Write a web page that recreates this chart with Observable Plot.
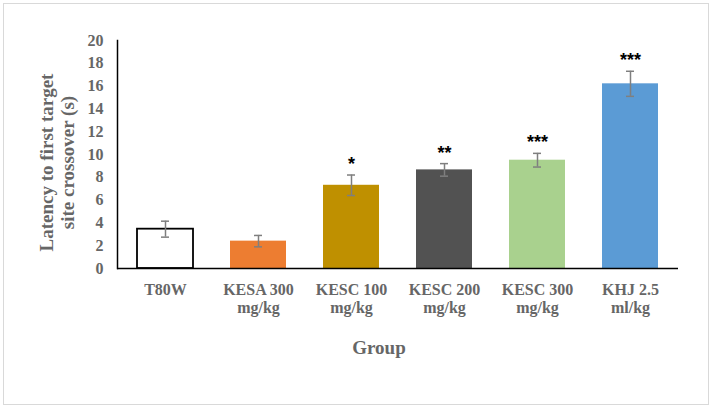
<!DOCTYPE html>
<html>
<head>
<meta charset="utf-8">
<script src="https://cdn.jsdelivr.net/npm/d3@7"></script>
<script src="https://cdn.jsdelivr.net/npm/@observablehq/plot@0.6"></script>
<style>
  html, body { margin: 0; padding: 0; background: #fff; }
  #wrap { position: relative; width: 714px; height: 410px; }
  #border { position: absolute; left: 3px; top: 3px; width: 704px; height: 400px; border: 1px solid #d9d9d9; pointer-events: none; }
  #chart svg { display: block; }
</style>
</head>
<body>
<div id="wrap"><div id="chart"></div><div id="border"></div></div>
<script>
const groups = ["T80W", "KESA 300 mg/kg", "KESC 100 mg/kg", "KESC 200 mg/kg", "KESC 300 mg/kg", "KHJ 2.5 ml/kg"];
const tickLabels = ["T80W", "KESA 300\nmg/kg", "KESC 100\nmg/kg", "KESC 200\nmg/kg", "KESC 300\nmg/kg", "KHJ 2.5\nml/kg"];
const means = [3.45, 2.4, 7.3, 8.65, 9.5, 16.2];
const errors = [0.7, 0.5, 0.9, 0.55, 0.6, 1.1];
const stars = ["", "", "*", "**", "***", "***"];
const fills = ["#ffffff", "#ed7d31", "#bf9000", "#525252", "#a9d18e", "#5b9bd5"];
const yTicks = [0, 2, 4, 6, 8, 10, 12, 14, 16, 18, 20];

const data = groups.map((g, i) => ({group: g, label: tickLabels[i], mean: means[i], err: errors[i], star: stars[i], fill: fills[i]}));

const serif = "'Liberation Serif', 'Times New Roman', serif";
const gray = "#666666";

const chart = Plot.plot({
  width: 714,
  height: 410,
  marginLeft: 117,
  marginRight: 36,
  marginTop: 40,
  marginBottom: 142,
  style: {fontFamily: serif, background: "transparent", overflow: "visible"},
  x: {type: "band", domain: groups, paddingInner: 0.4, paddingOuter: 0.2, label: null},
  y: {domain: [0, 20], label: null},
  marks: [
    Plot.barY(data, {x: "group", y: "mean", fill: "fill", stroke: d => d.group === "T80W" ? "#000" : "none", strokeWidth: 1.8}),
    Plot.ruleX(data, {x: "group", y1: d => d.mean - d.err, y2: d => d.mean + d.err, stroke: "#7f7f7f", strokeWidth: 1.5}),
    Plot.tickY(data, {x: "group", y: d => d.mean - d.err, stroke: "#7f7f7f", strokeWidth: 1.5, insetLeft: 24, insetRight: 24}),
    Plot.tickY(data, {x: "group", y: d => d.mean + d.err, stroke: "#7f7f7f", strokeWidth: 1.5, insetLeft: 24, insetRight: 24}),
    Plot.text(data, {x: "group", y: d => d.mean + d.err, text: "star", lineAnchor: "bottom", dy: -5, fontSize: 18, fontWeight: "bold", fontFamily: "'Liberation Sans', Arial, sans-serif", fill: "#000"}),
    Plot.axisY({ticks: yTicks, tickSize: 0, tickPadding: 14, fontSize: 16, fontWeight: "bold", fill: gray, label: null}),
    Plot.axisX({tickSize: 0, tickPadding: 14, fontSize: 16, fontWeight: "bold", fill: gray, lineHeight: 1.1, label: null, tickFormat: (d, i) => tickLabels[groups.indexOf(d)]}),
    Plot.frame({anchor: "left", stroke: "#000", strokeWidth: 1.5}),
    Plot.ruleY([0], {stroke: "#000", strokeWidth: 1.5}),
    Plot.text(["Latency to first target\nsite crossover (s)"], {frameAnchor: "left", textAnchor: "middle", rotate: -90, dx: -61, dy: 8, lineAnchor: "middle", lineHeight: 1.1, fontSize: 19, fontWeight: "bold", fill: gray}),
    Plot.text(["Group"], {frameAnchor: "bottom", dx: -19, dy: 79, lineAnchor: "middle", fontSize: 19, fontWeight: "bold", fill: gray})
  ]
});
document.getElementById("chart").appendChild(chart);
</script>
</body>
</html>
